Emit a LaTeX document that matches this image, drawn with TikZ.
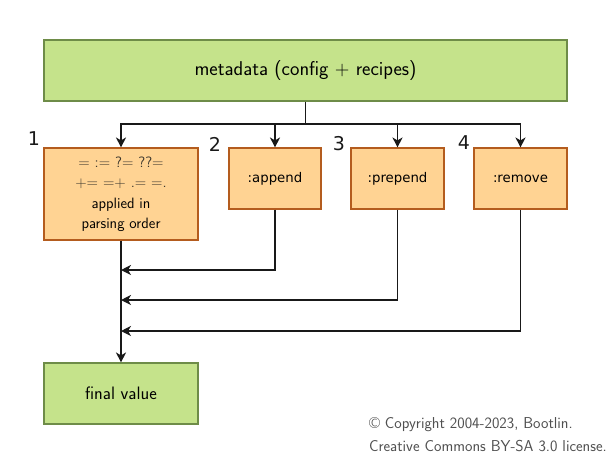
\documentclass[tikz,border=0pt]{standalone}
\usepackage{fontspec}
\newfontfamily\dejavu{DejaVu Sans}
\usetikzlibrary{arrows.meta}
\definecolor{gfill}{RGB}{197,227,139}
\definecolor{gdraw}{RGB}{110,140,72}
\definecolor{ofill}{RGB}{255,211,147}
\definecolor{odraw}{RGB}{180,92,30}
\definecolor{optext}{RGB}{60,55,45}
\definecolor{copytext}{RGB}{80,80,80}
\tikzset{
  greenbox/.style={draw=gdraw, fill=gfill, line width=1.1pt, rectangle, inner sep=0pt, align=center},
  orangebox/.style={draw=odraw, fill=ofill, line width=1.1pt, rectangle, inner sep=0pt, align=center},
  smalllabel/.style={font=\dejavu\fontsize{13.3}{16}\selectfont},
  numlabel/.style={font=\dejavu\fontsize{19}{22}\selectfont, text=black!90, inner sep=0pt},
  conn/.style={line width=1.5pt, black!90},
  arr/.style={conn, -{Stealth[length=10pt, width=10pt, inset=3pt]}},
  copyr/.style={font=\sffamily\fontsize{15.8}{20}\selectfont, text=copytext, inner sep=0pt, anchor=north east, align=left}
}
\begin{document}
\begin{tikzpicture}[x=1pt, y=-1pt]
\useasboundingbox (0,0) rectangle (613,459);
\node[greenbox, minimum width=523pt, minimum height=61pt, font=\sffamily\fontsize{20}{24}\selectfont] (md) at (305.5,70.5) {metadata (config + recipes)};
\node[orangebox, minimum width=154pt, minimum height=92pt, font=\sffamily\fontsize{15}{20.5}\selectfont] (b1) at (121,194)
  {\textcolor{optext}{= := ?= ??=}\\\textcolor{optext}{+= =+ .= =.}\\applied in\\parsing order};
\node[orangebox, smalllabel, minimum width=92pt, minimum height=61pt] (b2) at (275,178.5) {:append};
\node[orangebox, smalllabel, minimum width=93pt, minimum height=61pt] (b3) at (397.5,178.5) {:prepend};
\node[orangebox, smalllabel, minimum width=93pt, minimum height=61pt] (b4) at (520.5,178.5) {:remove};
\node[greenbox, minimum width=154pt, minimum height=61pt, font=\sffamily\fontsize{18}{22}\selectfont] (fin) at (121,393.5) {final value};
\node[numlabel] (n1) at (34,139) {1};
\node[numlabel] (n2) at (215,144) {2};
\node[numlabel] (n3) at (339,144) {3};
\node[numlabel] (n4) at (464,143) {4};
\coordinate (split) at (305.5,124);
\coordinate (m1) at (121,270);
\coordinate (m2) at (121,300);
\coordinate (m3) at (121,331);
\draw[conn] (md.south) -- (split);
\draw[arr] (split) -| (b1.north);
\draw[arr] (split) -| (b2.north);
\draw[arr] (split) -| (b3.north);
\draw[arr] (split) -| (b4.north);
\draw[arr] (b2.south) |- (m1);
\draw[arr] (b3.south) |- (m2);
\draw[arr] (b4.south) |- (m3);
\draw[arr] (b1.south) -- (fin.north);
\node[copyr] (cp) at (607,417) {\textcopyright\ Copyright 2004-2023, Bootlin.\\[3pt]Creative Commons BY-SA 3.0 license.};
\end{tikzpicture}
\end{document}
